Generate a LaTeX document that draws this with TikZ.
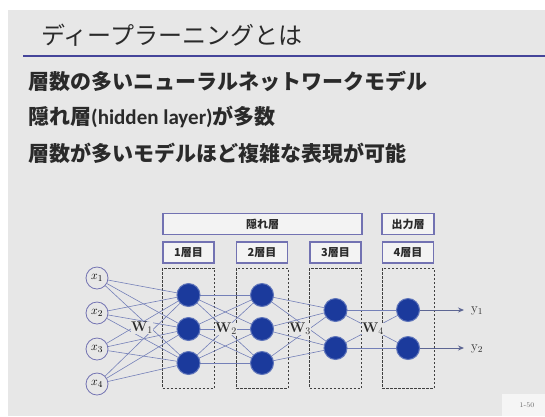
\documentclass[tikz,border=0pt]{standalone}
\usepackage{fontspec}
\newfontfamily\jp{Noto Sans CJK JP}
\newfontfamily\lat{Carlito}
\usetikzlibrary{arrows.meta}
\definecolor{bgc}{HTML}{E7E7E7}
\definecolor{rulec}{HTML}{45459A}
\definecolor{edgec}{HTML}{7480B8}
\definecolor{nodec}{HTML}{1B3A9C}
\definecolor{boxc}{HTML}{7272B2}
\definecolor{txtc}{HTML}{2A2A2A}
\newcommand{\wsym}[1]{\textbf{W}$_{#1}$}
\tikzset{
  inp/.style={circle,draw=boxc,fill=bgc,line width=0.8pt,minimum size=22pt,inner sep=0pt,font=\fontsize{13}{13}\selectfont},
  hid/.style={circle,fill=nodec,draw=nodec!70!white,line width=1pt,minimum size=23pt,inner sep=0pt},
  lbox/.style={draw=boxc,fill=bgc!50!white,line width=1.2pt,inner sep=0pt,minimum height=21pt,font=\jp\bfseries\fontsize{11}{11}\selectfont,text=txtc},
  dbox/.style={draw=black!75,dashed,dash pattern=on 2.5pt off 1.5pt,line width=1pt,minimum width=52pt,minimum height=120pt,inner sep=0pt},
  wlab/.style={fill=bgc,inner sep=0.5pt,font=\fontsize{14}{14}\selectfont,text=txtc},
  edge/.style={draw=edgec,line width=0.6pt},
  outarr/.style={draw=edgec!80!black,line width=0.9pt,-{Stealth[length=6pt,width=5pt]}},
  bullet/.style={anchor=west,inner sep=0pt,font=\jp\bfseries\fontsize{21}{21}\selectfont,text=txtc}
}
\begin{document}
\begin{tikzpicture}[x=1pt,y=-1pt]
\useasboundingbox (0,0) rectangle (545,416);
\fill[white] (0,0) rectangle (545,416);
\fill[bgc] (8,10) rectangle (545,416);
\fill[bgc!40!white] (502,394) rectangle (545,416);
% title
\node[anchor=west,inner sep=0pt,font=\jp\fontsize{24}{24}\selectfont,text=txtc] (title) at (41,35) {ディープラーニングとは};
\draw[rulec,line width=2.5pt] (23,56) -- (545,56);
% bullets
\node[bullet] (b1) at (28,81) {層数の多いニューラルネットワークモデル};
\node[bullet] (b2) at (28,117) {隠れ層{\lat\bfseries (hidden layer)}が多数};
\node[bullet] (b3) at (28,153) {層数が多いモデルほど複雑な表現が可能};
% header boxes
\node[lbox,minimum width=199pt] (hid) at (262.5,224) {隠れ層};
\node[lbox,minimum width=52pt] (outl) at (408,224) {出力層};
\node[lbox,minimum width=51pt] (l1) at (188.5,252.5) {1層目};
\node[lbox,minimum width=51pt] (l2) at (262,252.5) {2層目};
\node[lbox,minimum width=51pt] (l3) at (335.5,252.5) {3層目};
\node[lbox,minimum width=51pt] (l4) at (408,252.5) {4層目};
% dashed boxes
\node[dbox] (d1) at (188.5,328) {};
\node[dbox] (d2) at (262,328) {};
\node[dbox] (d3) at (335.5,328) {};
\node[dbox] (d4) at (408,328) {};
% nodes
\node[inp] (x1) at (97,278) {$x_1$};
\node[inp] (x2) at (97,313) {$x_2$};
\node[inp] (x3) at (97,349) {$x_3$};
\node[inp] (x4) at (97,384) {$x_4$};
\foreach \i/\y in {1/295,2/329,3/363}{
  \coordinate (a\i) at (188.5,\y);
  \coordinate (b\i) at (262,\y);
}
\foreach \i/\y in {1/310,2/348}{
  \coordinate (c\i) at (335.5,\y);
  \coordinate (e\i) at (408,\y);
}
% edges
\foreach \s in {1,2,3,4}{\foreach \t in {1,2,3}{\draw[edge] (x\s) -- (a\t);}}
\foreach \s in {1,2,3}{\foreach \t in {1,2,3}{\draw[edge] (a\s) -- (b\t);}}
\foreach \s in {1,2,3}{\foreach \t in {1,2}{\draw[edge] (b\s) -- (c\t);}}
\foreach \s in {1,2}{\foreach \t in {1,2}{\draw[edge] (c\s) -- (e\t);}}
\foreach \i in {1,2,3}{
  \node[hid] (h1\i) at (a\i) {};
  \node[hid] (h2\i) at (b\i) {};
}
\foreach \i in {1,2}{
  \node[hid] (h3\i) at (c\i) {};
  \node[hid] (h4\i) at (e\i) {};
}
% outputs
\coordinate (o1) at (464,310);
\coordinate (o2) at (464,348);
\draw[outarr] (h41) -- (o1);
\draw[outarr] (h42) -- (o2);
\node[anchor=west,inner sep=0pt,font=\fontsize{13}{13}\selectfont,text=txtc] (y1) at (471,311) {y$_1$};
\node[anchor=west,inner sep=0pt,font=\fontsize{13}{13}\selectfont,text=txtc] (y2) at (471,349) {y$_2$};
% weights
\node[wlab] (w1) at (142,328) {\wsym{1}};
\node[wlab] (w2) at (226,329) {\wsym{2}};
\node[wlab] (w3) at (300,329) {\wsym{3}};
\node[wlab] (w4) at (373,329) {\wsym{4}};
% page number
\node[font=\fontsize{7}{7}\selectfont,text=black!60] (pg) at (527,405) {1-50};
\end{tikzpicture}
\end{document}
